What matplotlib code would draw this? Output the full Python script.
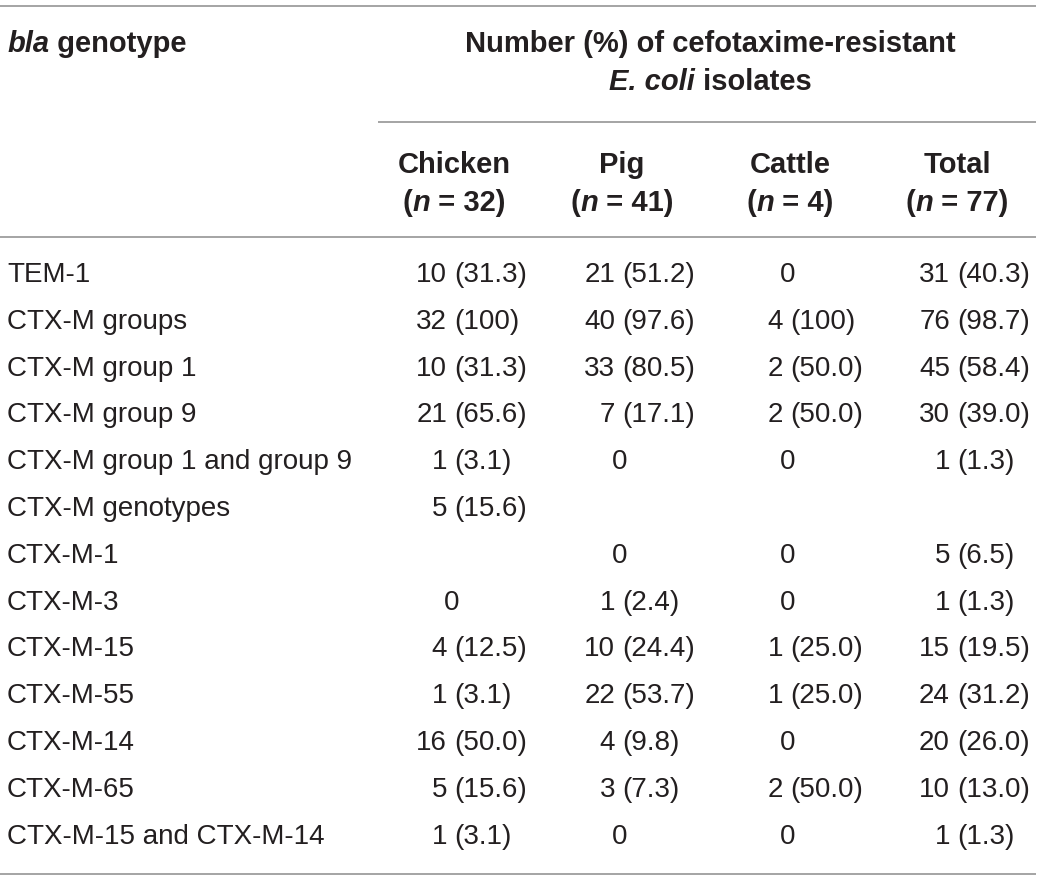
import matplotlib
matplotlib.use("Agg")
from matplotlib import pyplot as plt

plt.rcParams['font.family'] = ['Liberation Sans', 'DejaVu Sans']

# table data
genotypes = ["TEM-1", "CTX-M groups", "CTX-M group 1", "CTX-M group 9",
             "CTX-M group 1 and group 9", "CTX-M genotypes", "CTX-M-1",
             "CTX-M-3", "CTX-M-15", "CTX-M-55", "CTX-M-14", "CTX-M-65",
             "CTX-M-15 and CTX-M-14"]
groups = ["Chicken", "Pig", "Cattle", "Total"]
group_n = [32, 41, 4, 77]

chicken_n = [10, 32, 10, 21, 1, 5, None, 0, 4, 1, 16, 5, 1]
chicken_pct = [31.3, 100, 31.3, 65.6, 3.1, 15.6, None, None, 12.5, 3.1, 50.0, 15.6, 3.1]
pig_n = [21, 40, 33, 7, 0, None, 0, 1, 10, 22, 4, 3, 0]
pig_pct = [51.2, 97.6, 80.5, 17.1, None, None, None, 2.4, 24.4, 53.7, 9.8, 7.3, None]
cattle_n = [0, 4, 2, 2, 0, None, 0, 0, 1, 1, 0, 2, 0]
cattle_pct = [None, 100, 50.0, 50.0, None, None, None, None, 25.0, 25.0, None, 50.0, None]
total_n = [31, 76, 45, 30, 1, None, 5, 1, 15, 24, 20, 10, 1]
total_pct = [40.3, 98.7, 58.4, 39.0, 1.3, None, 6.5, 1.3, 19.5, 31.2, 26.0, 13.0, 1.3]

columns = [(chicken_n, chicken_pct), (pig_n, pig_pct),
           (cattle_n, cattle_pct), (total_n, total_pct)]

W, H = 1040, 881
fig = plt.figure(figsize=(W / 100, H / 100), dpi=100)
ax = fig.add_axes([0, 0, 1, 1])
ax.set_xlim(0, W)
ax.set_ylim(H, 0)
ax.axis('off')
renderer = fig.canvas.get_renderer()

TXT = '#231f20'
LINE = '#8c8c8c'
BODY = 20
HEAD = 21

col_x = [454, 622, 790, 957]
label_x = 7
row_y0 = 282
row_dy = 46.8


def rich(x, y, parts, ha='left', size=HEAD):
    # parts: list of (text, style) drawn one after another on one baseline
    objs = []
    for s, style in parts:
        t = ax.text(0, y, s, fontsize=size, fontweight='bold', fontstyle=style,
                    color=TXT, va='baseline', ha='left')
        objs.append(t)
    widths = [t.get_window_extent(renderer).width for t in objs]
    total = sum(widths)
    start = x - total / 2 if ha == 'center' else x
    for t, w in zip(objs, widths):
        t.set_x(start)
        start += w


def hline(y, x0, x1):
    ax.plot([x0, x1], [y, y], color=LINE, lw=1.1, solid_capstyle='butt')


# rules
hline(6, 0, 1036)
hline(122, 378, 1036)
hline(237, 0, 1036)
hline(874, 0, 1036)

# header
rich(label_x, 52, [("bla", 'italic'), (" genotype", 'normal')])
rich(710, 52, [("Number (%) of cefotaxime-resistant", 'normal')], ha='center')
rich(710, 90, [("E. coli", 'italic'), (" isolates", 'normal')], ha='center')
for x, g, n in zip(col_x, groups, group_n):
    rich(x, 173, [(g, 'normal')], ha='center')
    rich(x, 211, [("(", 'normal'), ("n", 'italic'), (f" = {n})", 'normal')],
         ha='center')

# body
for i, lab in enumerate(genotypes):
    y = row_y0 + i * row_dy
    ax.text(label_x, y, lab, fontsize=BODY, color=TXT, va='baseline', ha='left')
    for x, (ns, ps) in zip(col_x, columns):
        n, p = ns[i], ps[i]
        if n is None:
            continue
        if p is None:
            ax.text(x - 2, y, str(n), fontsize=BODY, color=TXT,
                    va='baseline', ha='center')
            continue
        ptxt = "100" if p == 100 else f"{p:.1f}"
        ax.text(x - 7, y, str(n), fontsize=BODY, color=TXT,
                va='baseline', ha='right')
        ax.text(x, y, f"({ptxt})", fontsize=BODY, color=TXT,
                va='baseline', ha='left')

fig.savefig("out.png", dpi=100)
